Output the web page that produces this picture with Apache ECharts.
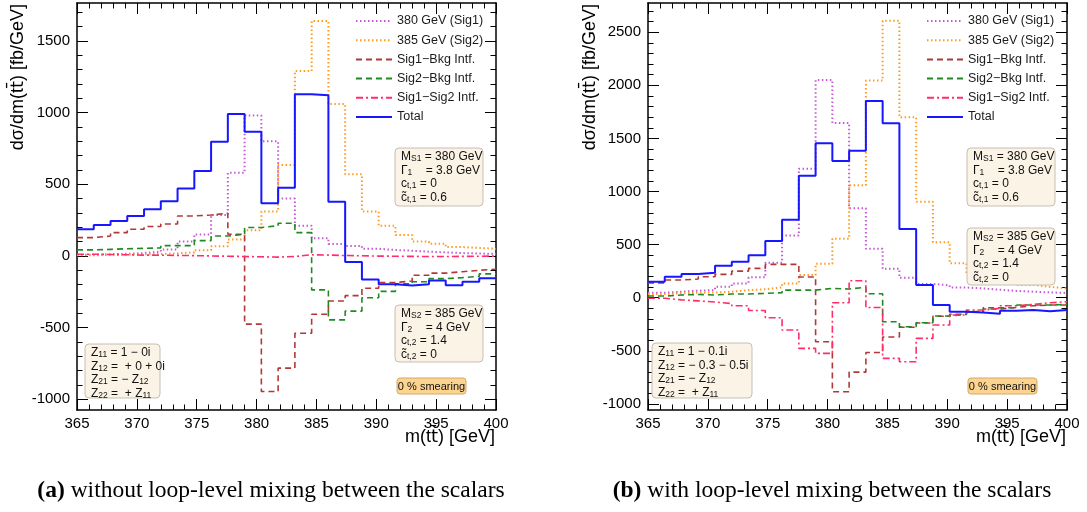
<!DOCTYPE html>
<html>
<head>
<meta charset="utf-8">
<script src="https://cdn.jsdelivr.net/npm/echarts@6/dist/echarts.min.js"></script>
<style>
    html, body { margin: 0; padding: 0; background: #fff; }
    #chart { width: 1087px; height: 512px; }
</style>
</head>
<body>
<div id="chart"></div>
<script>
// bin edges of the m(tt) histograms [GeV]
var binEdges = [365, 366.4, 367.8, 369.2, 370.6, 372, 373.4, 374.8, 376.2, 377.6, 379, 380.4, 381.8,
    383.2, 384.6, 386, 387.4, 388.8, 390.2, 391.6, 393, 394.4, 395.8, 397.2, 398.6, 400];

// (a) without loop-level mixing
var sig1A  = [8, 12, 15, 20, 30, 45, 100, 150, 285, 580, 980, 800, 400, 211, 123, 84, 70, 50, 42, 36, 30, 25, 20, 17, 14];
var sig2A  = [5, 7, 9, 11, 14, 18, 25, 40, 68, 115, 180, 310, 635, 1290, 1640, 1060, 570, 310, 210, 146, 100, 85, 62, 56, 50];
var int1A  = [128, 139, 163, 186, 205, 223, 279, 286, 298, 151, -476, -946, -783, -539, -407, -314, -277, -225, -185, -175, -135, -120, -110, -100, -93];
var int2A  = [42, 46, 50, 53, 56, 72, 72, 107, 139, 151, 198, 211, 228, 163, -237, -446, -385, -292, -247, -195, -180, -158, -151, -143, -125];
var int12A = [12, 10, 8, 6, 5, 4, 2, 0, -2, -4, -6, -8, -4, 8, 6, 3, 1, -1, -2, -3, -4, -4, -3, -2, -1];
var totalA = [186, 216, 244, 279, 325, 381, 470, 593, 797, 990, 867, 367, 476, 1128, 1122, 379, -42, -165, -198, -207, -198, -172, -205, -180, -155];

// (b) with loop-level mixing
var sig1B  = [47, 57, 66, 72, 104, 135, 192, 330, 585, 1215, 2050, 1645, 842, 462, 272, 188, 130, 116, 96, 88, 75, 64, 57, 50, 45];
var sig2B  = [35, 41, 47, 50, 57, 72, 80, 98, 135, 214, 320, 556, 1060, 2045, 2608, 1699, 904, 522, 324, 230, 170, 140, 120, 102, 88];
var int1B  = [140, 167, 176, 198, 220, 251, 276, 314, 314, 195, -414, -885, -700, -516, -370, -278, -238, -175, -155, -135, -106, -91, -75, -69, -69];
var int2B  = [16, 26, 31, 26, 35, 35, 41, 47, 72, 72, 88, 82, 98, 38, -226, -273, -235, -172, -157, -131, -94, -94, -69, -69, -62];
var int12B = [-5, -20, -30, -40, -55, -75, -120, -188, -304, -477, -524, -47, 160, -92, -571, -603, -383, -257, -163, -116, -100, -75, -62, -47, -38];
var totalB = [151, 198, 223, 236, 302, 339, 399, 534, 735, 1148, 1454, 1287, 1384, 1852, 1642, 647, 120, -69, -131, -138, -150, -122, -116, -128, -116];

// tick labels
var xTicks = [365, 370, 375, 380, 385, 390, 395, 400];
var yTicksA = [-1000, -500, 0, 500, 1000, 1500];
var yTicksB = [-1000, -500, 0, 500, 1000, 1500, 2000, 2500];

var names = ['380 GeV (Sig1)', '385 GeV (Sig2)', 'Sig1\u2212Bkg Intf.', 'Sig2\u2212Bkg Intf.', 'Sig1\u2212Sig2 Intf.', 'Total'];

var FONT = "'Liberation Sans', Arial, Helvetica, sans-serif";
var SERIF = "'Liberation Serif', 'Times New Roman', serif";

var chartDom = document.getElementById('chart');
var myChart = echarts.init(chartDom, null, {renderer: 'canvas'});

function steps(vals) {
    return binEdges.map(function (x, i) {
        return [x, vals[Math.min(i, vals.length - 1)]];
    });
}

function minorList(lo, hi) {
    var out = [];
    for (var v = lo; v <= hi; v += 100) out.push(v);
    return out;
}

var styles = [
    {color: '#c45ad4', width: 2, type: [1.5, 2.5]},
    {color: '#ff9b21', width: 2, type: [1.5, 2.5]},
    {color: '#b23838', width: 1.6, type: [6, 4]},
    {color: '#1f8a22', width: 1.6, type: [6, 4]},
    {color: '#ff2d6a', width: 1.6, type: [7, 3, 2, 3]},
    {color: '#1717ff', width: 2, type: 'solid'}
];

function makeSeries(xi, yi, sets) {
    return sets.map(function (vals, k) {
        return {
            name: names[k],
            type: 'line',
            xAxisIndex: xi,
            yAxisIndex: yi,
            step: 'end',
            symbol: 'none',
            clip: true,
            data: steps(vals),
            lineStyle: {color: styles[k].color, width: styles[k].width, type: styles[k].type},
            itemStyle: {color: styles[k].color},
            z: 2 + k
        };
    });
}

var frame = {show: true, onZero: false, lineStyle: {color: '#000', width: 1.5}};

function xAxes(g) {
    return ['bottom', 'top'].map(function (pos) {
        return {
            type: 'value', gridIndex: g, position: pos, min: 365, max: 400, interval: 5,
            axisLine: frame,
            axisTick: {show: true, inside: true, length: 11, lineStyle: {color: '#000', width: 1}},
            minorTick: {show: true, splitNumber: 5, length: 5.5, lineStyle: {color: '#000', width: 1}},
            axisLabel: {show: pos === 'bottom', fontSize: 15, fontFamily: FONT, color: '#000', margin: 6,
                showMinLabel: true, showMaxLabel: true,
                formatter: function (v) { return String(v); }},
            splitLine: {show: false}, minorSplitLine: {show: false}
        };
    });
}

function yAxes(g, min, max, major) {
    var minor = minorList(major[0], max);
    var out = [];
    ['left', 'right'].forEach(function (pos) {
        out.push({
            type: 'value', gridIndex: g, position: pos, min: min, max: max,
            axisLine: frame,
            axisTick: {show: true, inside: true, length: 11, customValues: major, lineStyle: {color: '#000', width: 1}},
            axisLabel: {show: pos === 'left', customValues: major, fontSize: 15, fontFamily: FONT, color: '#000', margin: 7,
                formatter: function (v) { return String(v); }},
            splitLine: {show: false}
        });
        out.push({
            type: 'value', gridIndex: g, position: pos, min: min, max: max,
            axisLine: {show: false},
            axisTick: {show: true, inside: true, length: 5.5, customValues: minor, lineStyle: {color: '#000', width: 1}},
            axisLabel: {show: false},
            splitLine: {show: false}
        });
    });
    return out;
}

// rich styles for the text boxes
var richBox = {
    n: {fontSize: 12, fontFamily: FONT, lineHeight: 13.5, fill: '#111'},
    s: {fontSize: 8.5, fontFamily: FONT, lineHeight: 8, verticalAlign: 'bottom', fill: '#111'}
};

function textBox(x, y, w, h, text, fill, stroke) {
    return [
        {type: 'rect', shape: {x: x, y: y, width: w, height: h, r: 4},
            style: {fill: fill || '#fbf3e6', stroke: stroke || '#c6beb3', lineWidth: 1}, z: 20},
        {type: 'text', x: x + 6, y: y + 2, z: 21,
            style: {text: text, rich: richBox, fontSize: 12, fontFamily: FONT, fill: '#111'}}
    ];
}

var box1 = ['{n|M}{s|S1}{n| = 380 GeV}', '{n|\u0393}{s|1}{n|    = 3.8 GeV}', '{n|c}{s|t,1}{n| = 0}', '{n|c\u0303}{s|t,1}{n| = 0.6}'].join('\n');
var box2 = ['{n|M}{s|S2}{n| = 385 GeV}', '{n|\u0393}{s|2}{n|    = 4 GeV}', '{n|c}{s|t,2}{n| = 1.4}', '{n|c\u0303}{s|t,2}{n| = 0}'].join('\n');
var zA = ['{n|Z}{s|11}{n| = 1 \u2212 0i}', '{n|Z}{s|12}{n| =  + 0 + 0i}', '{n|Z}{s|21}{n| = \u2212 Z}{s|12}', '{n|Z}{s|22}{n| =  + Z}{s|11}'].join('\n');
var zB = ['{n|Z}{s|11}{n| = 1 \u2212 0.1i}', '{n|Z}{s|12}{n| = \u2212 0.3 \u2212 0.5i}', '{n|Z}{s|21}{n| = \u2212 Z}{s|12}', '{n|Z}{s|22}{n| =  + Z}{s|11}'].join('\n');

function smear(x) {
    return [
        {type: 'rect', shape: {x: x, y: 378, width: 69, height: 16, r: 3},
            style: {fill: '#fcd38f', stroke: '#d2aa6a', lineWidth: 1}, z: 20},
        {type: 'text', x: x + 34.5, y: 386.5, z: 21,
            style: {text: '0 % smearing', fontSize: 11, fontFamily: FONT, fill: '#111', align: 'center', verticalAlign: 'middle'}}
    ];
}

// axis titles: the anti-top "t" gets its bar from DejaVu's combining macron
var richTitle = {
    a: {fontSize: 18, fontFamily: FONT, fill: '#000'},
    t: {fontSize: 18, fontFamily: "'DejaVu Sans', sans-serif", fill: '#000'}
};
var titleY = '{a|d\u03c3/dm(t}{t|t\u0304}{a|) [fb/GeV]}';
var titleX = '{a|m(t}{t|t\u0304}{a|) [GeV]}';

function caption(x, tag, rest) {
    return {type: 'text', x: x, y: 491,
        style: {text: '{b|' + tag + '}{r|' + rest + '}', align: 'center', verticalAlign: 'middle',
            rich: {b: {fontSize: 23.5, fontWeight: 'bold', fontFamily: SERIF, fill: '#000'},
                   r: {fontSize: 23.5, fontFamily: SERIF, fill: '#000'}}}};
}

var graphics = [].concat(
    textBox(395, 148, 88, 58, box1),
    textBox(395, 305, 88, 57, box2),
    textBox(85, 344, 75, 54, zA),
    smear(397),
    textBox(967, 148, 88, 58, box1),
    textBox(967, 228, 88, 57, box2),
    textBox(652, 343, 100, 55, zB),
    smear(968),
    [
        {type: 'text', x: 18, y: 4, rotation: Math.PI / 2,
            style: {text: titleY, rich: richTitle, align: 'right', verticalAlign: 'middle'}},
        {type: 'text', x: 590, y: 4, rotation: Math.PI / 2,
            style: {text: titleY, rich: richTitle, align: 'right', verticalAlign: 'middle'}},
        {type: 'text', x: 495, y: 437,
            style: {text: titleX, rich: richTitle, align: 'right', verticalAlign: 'middle'}},
        {type: 'text', x: 1066, y: 437,
            style: {text: titleX, rich: richTitle, align: 'right', verticalAlign: 'middle'}},
        caption(271, '(a)', ' without loop-level mixing between the scalars'),
        caption(832, '(b)', ' with loop-level mixing between the scalars')
    ]
);

function legendAt(left) {
    return {
        left: left, top: 9, orient: 'vertical', selectedMode: false,
        itemWidth: 36, itemHeight: 14, itemGap: 5.2,
        itemStyle: {opacity: 0},
        data: names,
        textStyle: {fontSize: 12.5, fontFamily: FONT, color: '#1a1a1a', lineHeight: 14}
    };
}

var option = {
    animation: false,
    backgroundColor: '#fff',
    grid: [
        {left: 77, top: 3, width: 419, height: 407, outerBoundsMode: 'none'},
        {left: 648, top: 3, width: 419, height: 407, outerBoundsMode: 'none'}
    ],
    legend: [legendAt(350), legendAt(921)],
    xAxis: xAxes(0).concat(xAxes(1)),
    yAxis: yAxes(0, -1075, 1765, yTicksA).concat(yAxes(1, -1057, 2775, yTicksB)),
    series: makeSeries(0, 0, [sig1A, sig2A, int1A, int2A, int12A, totalA])
        .concat(makeSeries(2, 4, [sig1B, sig2B, int1B, int2B, int12B, totalB])),
    graphic: graphics
};

option && myChart.setOption(option);
</script>
</body>
</html>
